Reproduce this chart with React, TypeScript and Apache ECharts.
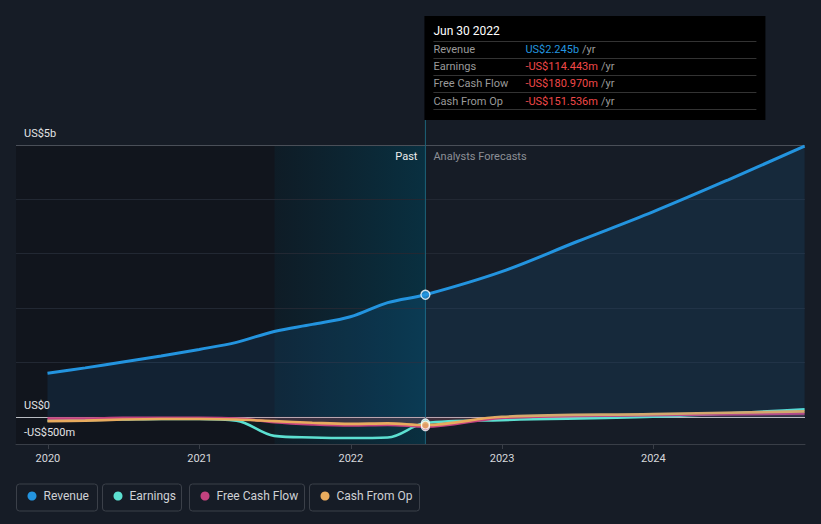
import React, { useEffect, useRef } from 'react';
import * as echarts from 'echarts';

// ---------- data ----------
const seriesNames = ['Revenue', 'Earnings', 'Free Cash Flow', 'Cash From Op'];
const seriesColors = ['#2394df', '#5ce0d1', '#c4427f', '#e8ab5e'];

const pastDates = ['2019-12-31', '2020-03-31', '2020-06-30', '2020-09-30', '2020-12-31', '2021-03-31', '2021-06-30', '2021-09-30', '2021-12-31', '2022-03-31', '2022-06-30'];
const revenuePast = [0.80, 0.90, 1.01, 1.12, 1.24, 1.37, 1.57, 1.70, 1.84, 2.10, 2.245];
const earningsPast = [-0.07, -0.06, -0.05, -0.04, -0.04, -0.07, -0.35, -0.38, -0.39, -0.38, -0.114443];
const fcfPast = [-0.03, -0.03, -0.02, -0.02, -0.02, -0.03, -0.10, -0.14, -0.16, -0.15, -0.18097];
const cfoPast = [-0.08, -0.07, -0.05, -0.04, -0.04, -0.05, -0.08, -0.11, -0.13, -0.12, -0.151536];

const revenueForecastDates = ['2022-12-31', '2023-06-30', '2023-12-31', '2024-06-30', '2024-12-31'];
const revenueForecast = [2.67, 3.22, 3.77, 4.36, 4.98];
const forecastDates = ['2022-12-31', '2023-12-31', '2024-12-31'];
const earningsForecast = [-0.06, 0.0, 0.14];
const fcfForecast = [-0.02, 0.03, 0.06];
const cfoForecast = [0.0, 0.05, 0.10];

const xTickYears = [2020, 2021, 2022, 2023, 2024];
const yLabelValues = [-0.5, 0, 5];
const yLabelTexts = ['-US$500m', 'US$0', 'US$5b'];

const axisMinDate = '2019-10-16';
const axisMaxDate = '2025-01-01';
const highlightStartDate = '2021-07-01';

// ---------- helpers ----------
const ts = (d: string) => {
  const [y, m, dd] = d.split('-').map(Number);
  return Date.UTC(y, m - 1, dd);
};
const pairs = (dates: string[], vals: number[]) => dates.map((d, i) => [ts(d), vals[i]]);
const fmtMoney = (v: number) => {
  const a = Math.abs(v);
  const s = a >= 1 ? `US$${a.toFixed(3)}b` : `US$${(a * 1000).toFixed(3)}m`;
  return (v < 0 ? '-' : '') + s;
};
const MONTHS = ['Jan', 'Feb', 'Mar', 'Apr', 'May', 'Jun', 'Jul', 'Aug', 'Sep', 'Oct', 'Nov', 'Dec'];
const fmtDate = (d: string) => {
  const [y, m, dd] = d.split('-').map(Number);
  return `${MONTHS[m - 1]} ${dd} ${y}`;
};

const FONT = 'Roboto, "Noto Sans", sans-serif';
const pastEnd = pastDates[pastDates.length - 1];
const pastEndTs = ts(pastEnd);
const yearTickValues = xTickYears.map((y) => Date.UTC(y, 0, 1));

const pastSets = [revenuePast, earningsPast, fcfPast, cfoPast];
const fullData = [
  pairs(pastDates, revenuePast).concat(pairs(revenueForecastDates, revenueForecast)),
  pairs(pastDates, earningsPast).concat(pairs(forecastDates, earningsForecast)),
  pairs(pastDates, fcfPast).concat(pairs(forecastDates, fcfForecast)),
  pairs(pastDates, cfoPast).concat(pairs(forecastDates, cfoForecast)),
];
const areaColors = ['rgba(33,150,243,0.15)', 'rgba(92,224,209,0.05)', 'rgba(196,66,127,0.28)', 'rgba(232,171,94,0.07)'];
const lineWidths = [3, 2.6, 2.6, 2.6];

// split-line colours for ticks -0.5, 0, 0.5 ... 5
const splitColors = [
  '#393e47', '#b9bcc2', 'rgba(0,0,0,0)', '#222833', 'rgba(0,0,0,0)', '#222833',
  'rgba(0,0,0,0)', '#222833', 'rgba(0,0,0,0)', '#222833', 'rgba(0,0,0,0)', '#4a4f58',
];

const legendLefts = [27.5, 113.5, 200.5, 320.5];
const legendBoxes = [[16.5, 81], [102.5, 79], [189.5, 115], [309.5, 110]];

function buildGraphic(px: number, yTop: number, yBottom: number) {
  const g: any[] = [];
  legendBoxes.forEach(([x, w]) => {
    g.push({ type: 'rect', z: 10, shape: { x, y: 484, width: w, height: 27, r: 3 }, style: { fill: 'none', stroke: '#3b4049', lineWidth: 1 } });
  });
  g.push({ type: 'line', z: 3, shape: { x1: px, y1: 120, x2: px, y2: yBottom }, style: { stroke: '#1c6278', lineWidth: 1 } });
  g.push({ type: 'text', z: 10, x: px - 8, y: yTop + 11, style: { text: 'Past', fill: '#ececec', fontSize: 11, fontFamily: FONT, align: 'right', verticalAlign: 'middle' } });
  g.push({ type: 'text', z: 10, x: px + 8, y: yTop + 11, style: { text: 'Analysts Forecasts', fill: '#8d9096', fontSize: 11, fontFamily: FONT, align: 'left', verticalAlign: 'middle' } });
  const tx = px - 1;
  g.push({ type: 'rect', z: 10, shape: { x: tx, y: 16, width: 341, height: 104 }, style: { fill: '#000000' } });
  g.push({ type: 'text', z: 11, x: tx + 9, y: 31, style: { text: fmtDate(pastEnd), fill: '#ffffff', fontSize: 12, fontWeight: 'normal', fontFamily: FONT, verticalAlign: 'middle' } });
  const sepYs = [41.5, 58.5, 75.5, 92.5, 109.5];
  sepYs.forEach((y) => g.push({ type: 'line', z: 11, shape: { x1: tx + 9, y1: y, x2: tx + 332, y2: y }, style: { stroke: '#333333', lineWidth: 1 } }));
  seriesNames.forEach((name, i) => {
    const y = 49.5 + i * 17.2;
    const v = pastSets[i][pastSets[i].length - 1];
    g.push({ type: 'text', z: 11, x: tx + 9, y, style: { text: name, fill: '#9a9a9a', fontSize: 11, fontFamily: FONT, verticalAlign: 'middle' } });
    g.push({
      type: 'text', z: 11, x: tx + 101, y,
      style: {
        text: `{v|${fmtMoney(v)}} {u|/yr}`, fontFamily: FONT, verticalAlign: 'middle',
        rich: {
          v: { fill: v >= 0 ? '#2394df' : '#f04848', fontSize: 11, fontFamily: FONT },
          u: { fill: '#9a9a9a', fontSize: 11, fontFamily: FONT },
        },
      },
    });
  });
  return g;
}

const option: any = {
  backgroundColor: '#161c26',
  animation: false,
  textStyle: { fontFamily: FONT },
  grid: { left: 16, right: 16, top: 145, bottom: 80 },
  legend: seriesNames.map((name, i) => ({
    data: [name], left: legendLefts[i], top: 490, padding: 0, icon: 'circle', itemWidth: 9, itemHeight: 9,
    selectedMode: false,
    textStyle: { color: '#cfd1d5', fontSize: 12, fontFamily: FONT, padding: [0, 0, 0, 2] },
  })),
  xAxis: {
    type: 'value', min: ts(axisMinDate), max: ts(axisMaxDate),
    axisLine: { show: true, onZero: false, lineStyle: { color: '#393e47', width: 1 } },
    axisTick: { show: true, length: 5, lineStyle: { color: '#393e47' }, customValues: yearTickValues },
    axisLabel: {
      color: '#d6d8dc', fontSize: 11, margin: 9, fontFamily: FONT,
      customValues: yearTickValues,
      formatter: (v: number) => String(new Date(v).getUTCFullYear()),
    },
    splitLine: { show: false },
  },
  yAxis: {
    type: 'value', min: -0.5, max: 5, interval: 0.5,
    axisLine: { show: false }, axisTick: { show: false },
    axisLabel: {
      inside: true, margin: 8, verticalAlign: 'bottom', padding: [0, 0, 6, 0], color: '#e2e3e5', fontSize: 11, fontFamily: FONT,
      formatter: (v: number) => {
        const k = yLabelValues.findIndex((t) => Math.abs(t - v) < 1e-6);
        return k >= 0 ? yLabelTexts[k] : '';
      },
    },
    splitLine: { show: true, lineStyle: { color: splitColors, width: 1 } },
    z: 3,
  },
  series: [
    {
      name: 'bg', type: 'line', data: [], z: 1, silent: true,
      markArea: {
        silent: true,
        data: [
          [{ xAxis: ts(axisMinDate), itemStyle: { color: 'rgba(0,0,0,0.22)' } }, { xAxis: pastEndTs }],
          [{
            xAxis: ts(highlightStartDate),
            itemStyle: {
              color: new echarts.graphic.LinearGradient(0, 0, 1, 0, [
                { offset: 0, color: 'rgba(4,60,80,0.18)' },
                { offset: 1, color: 'rgba(4,64,86,0.62)' },
              ]),
            },
          }, { xAxis: pastEndTs }],
        ],
      },
    },
    ...seriesNames.map((name, i) => ({
      name, type: 'line', data: fullData[i], smooth: 0.35, symbol: 'none', showSymbol: false,
      lineStyle: { color: seriesColors[i], width: lineWidths[i] },
      itemStyle: { color: seriesColors[i] },
      areaStyle: { color: areaColors[i], origin: 0 },
      z: 4 + (i === 0 ? 1 : 0),
    })),
    ...[1, 2, 3, 0].map((i) => ({
      name: 'marker' + i, type: 'scatter', silent: true,
      data: [[pastEndTs, pastSets[i][pastSets[i].length - 1]]],
      symbol: 'circle', symbolSize: i === 0 ? 9 : 8,
      itemStyle: { color: seriesColors[i], borderColor: '#ffffff', borderWidth: 1.3 },
      z: 8,
    })),
  ],
};

export default function App() {
  const ref = useRef<HTMLDivElement>(null);
  useEffect(() => {
    const chart = echarts.init(ref.current!, null, { renderer: 'svg' });
    chart.setOption(option);
    const px = chart.convertToPixel({ xAxisIndex: 0 }, pastEndTs) as number;
    const yTop = chart.convertToPixel({ yAxisIndex: 0 }, 5) as number;
    const yBottom = chart.convertToPixel({ yAxisIndex: 0 }, -0.5) as number;
    chart.setOption({ graphic: buildGraphic(px, yTop, yBottom) });
    return () => chart.dispose();
  }, []);
  return <div ref={ref} style={{ position: 'fixed', left: 0, top: 0, width: 821, height: 524 }} />;
}
